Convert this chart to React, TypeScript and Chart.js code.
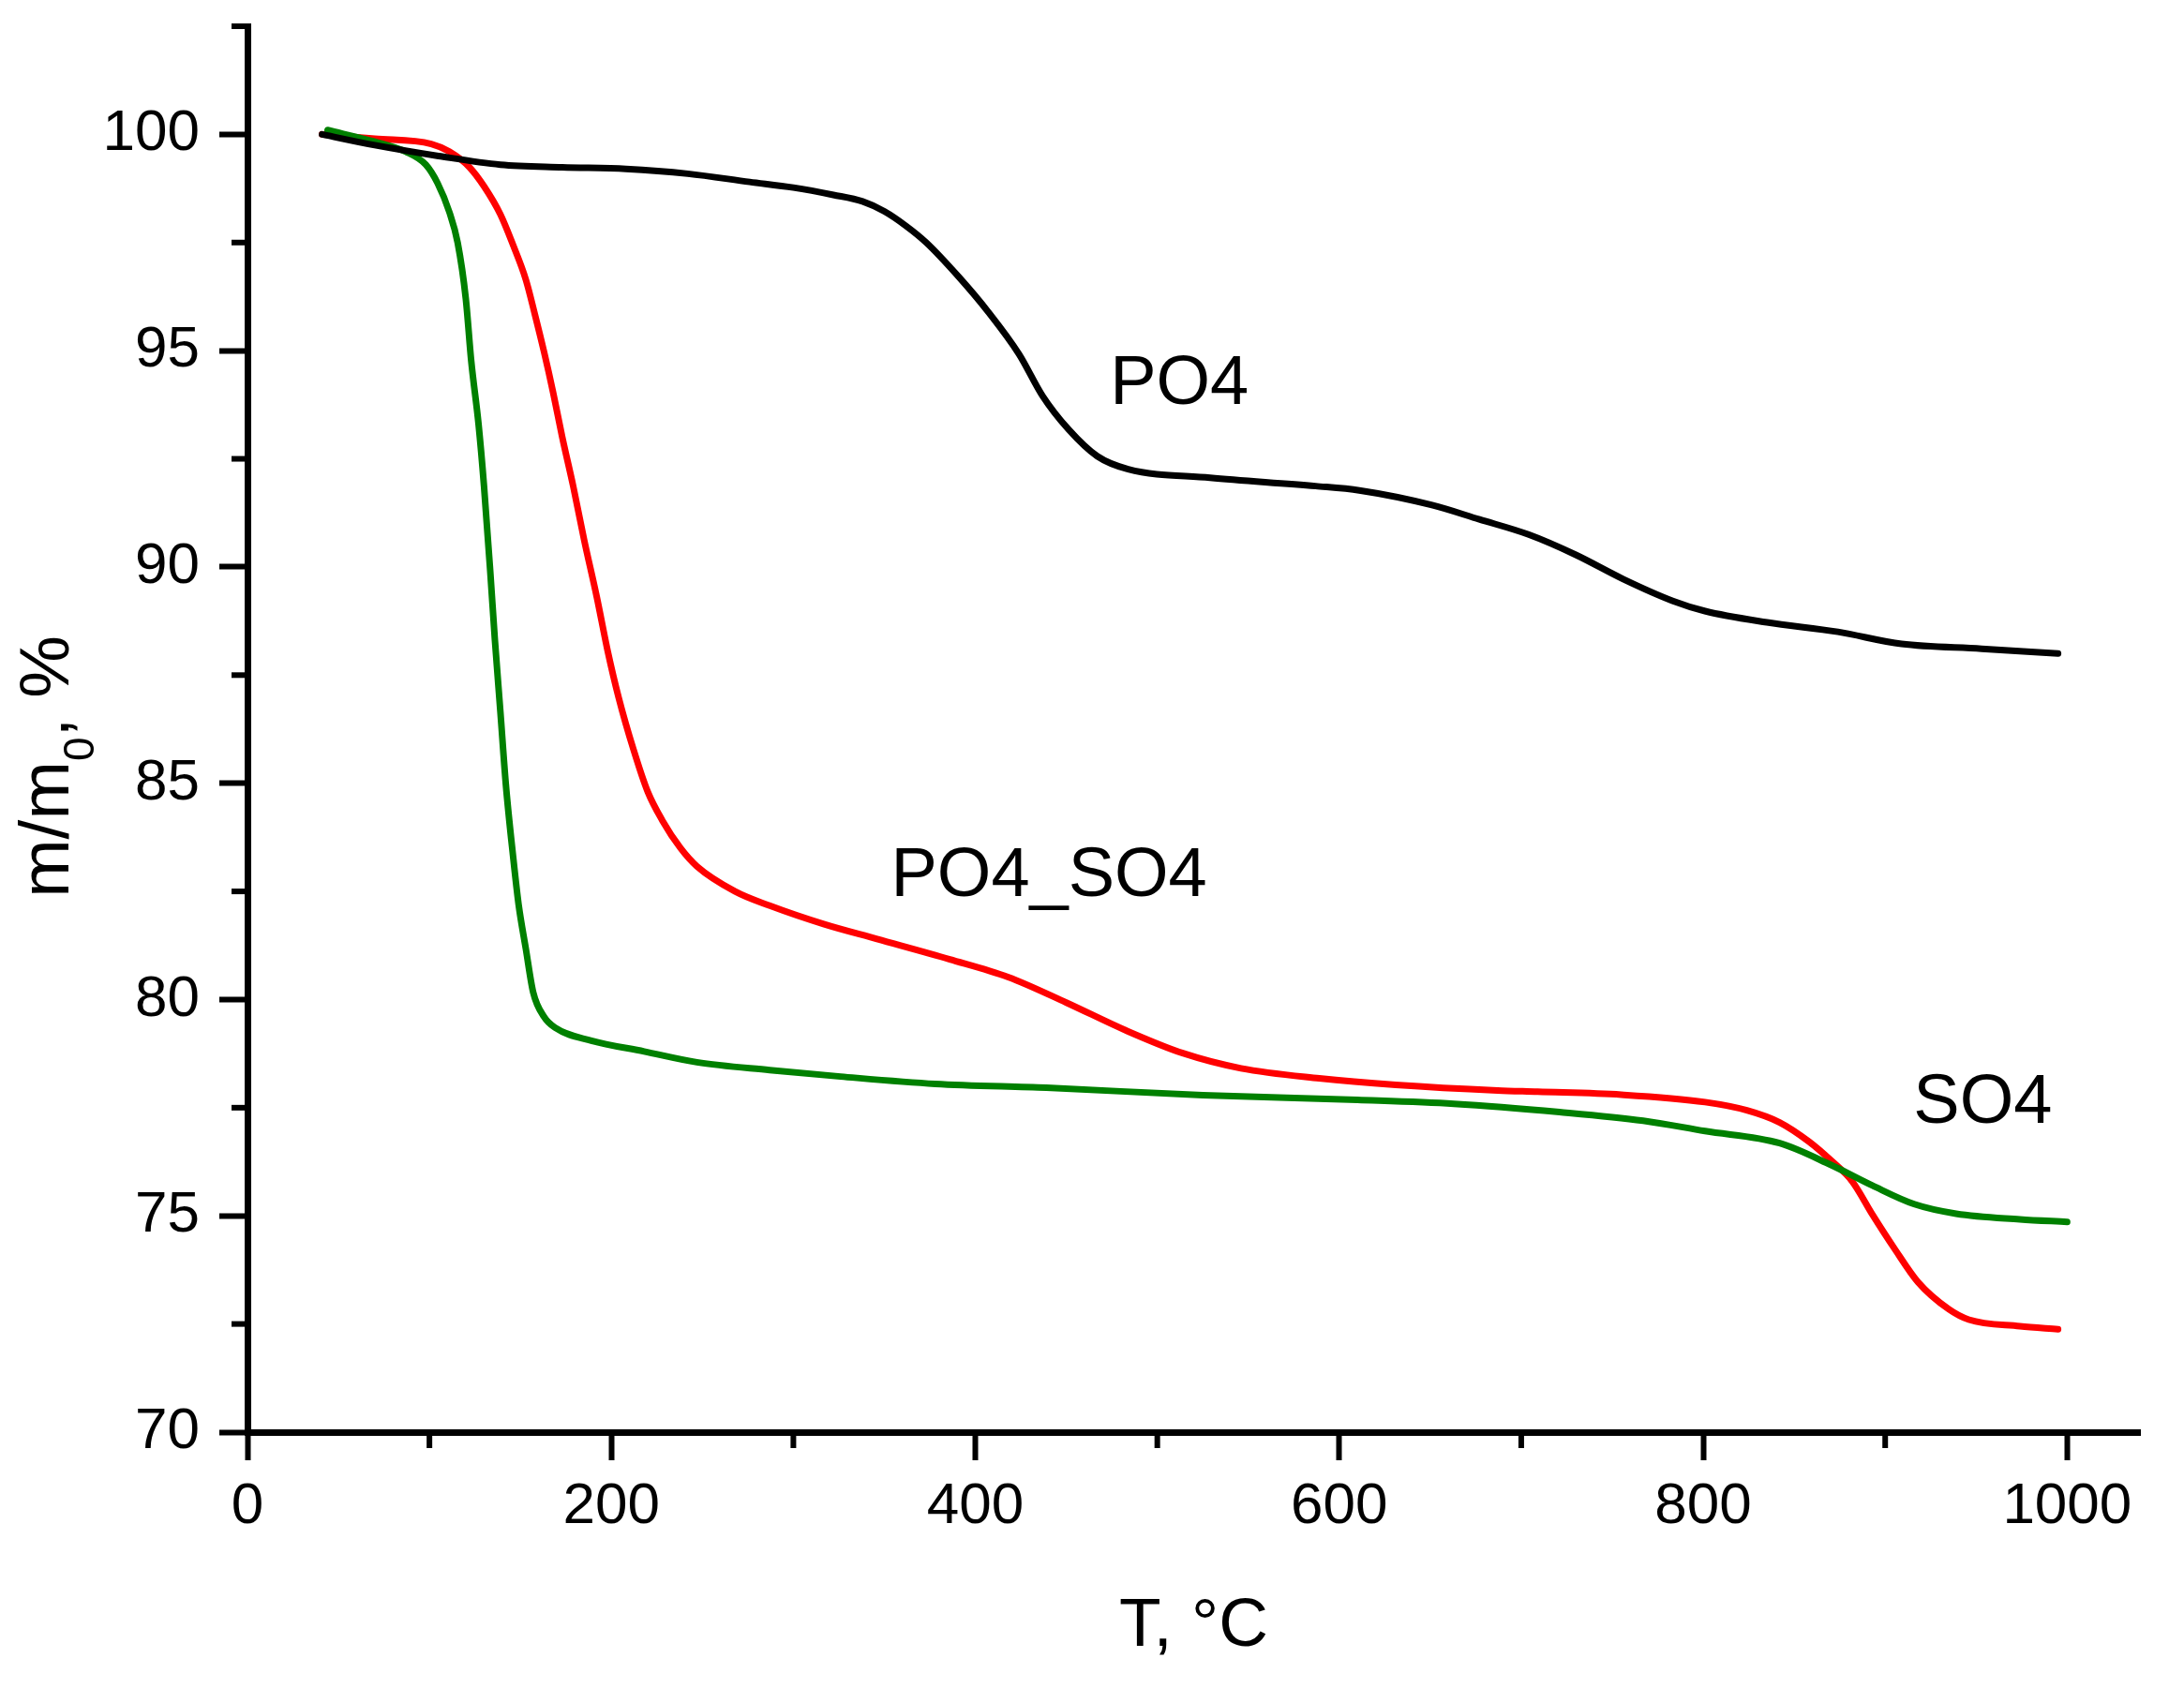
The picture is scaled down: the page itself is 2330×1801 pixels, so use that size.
import { useEffect, useRef } from "react"
import { Chart, registerables } from "chart.js"

Chart.register(...registerables)

const FONT = "'Liberation Sans', Arial, sans-serif"

// PO4 sample (black)
const po4Temp = [41, 70, 105, 139, 173, 208, 242, 276, 300, 322, 338, 350, 362, 373, 391, 407, 424, 437, 451, 467, 484, 529, 587, 611, 651, 677, 704, 730, 756, 783, 801, 835, 874, 909, 953, 995]
const po4Mass = [100, 99.75, 99.5, 99.3, 99.24, 99.2, 99.09, 98.9, 98.77, 98.6, 98.45, 98.22, 97.88, 97.5, 96.7, 95.9, 94.92, 93.95, 93.19, 92.56, 92.26, 92.06, 91.87, 91.77, 91.43, 91.1, 90.75, 90.28, 89.72, 89.22, 88.98, 88.72, 88.5, 88.22, 88.11, 88.0]

// PO4_SO4 sample (red)
const po4so4Temp = [41, 70, 101, 111, 122, 130, 139, 146, 153, 158, 163, 168, 173, 179, 185, 192, 198, 204, 212, 220, 228, 238, 247, 268, 287, 317, 346, 386, 418, 450, 482, 514, 546, 589, 631, 687, 709, 755, 801, 824, 842, 858, 870, 882, 893, 905, 918, 935, 946, 974, 995]
const po4so4Mass = [100, 99.9, 99.78, 99.6, 99.24, 98.8, 98.15, 97.44, 96.64, 95.83, 94.97, 94.03, 93.0, 91.87, 90.63, 89.3, 88.05, 86.98, 85.8, 84.8, 84.14, 83.5, 83.08, 82.5, 82.17, 81.74, 81.4, 80.93, 80.52, 79.93, 79.3, 78.76, 78.41, 78.18, 78.03, 77.9, 77.87, 77.8, 77.63, 77.44, 77.16, 76.72, 76.29, 75.79, 75.03, 74.25, 73.47, 72.84, 72.6, 72.45, 72.38]

// SO4 sample (green)
const so4Temp = [44, 70, 87, 98, 104.5, 111, 115.5, 120, 123, 127, 130, 133.5, 136, 139, 142, 146, 149, 153, 157, 163, 169, 189, 218, 247, 287, 326, 378, 439, 525, 610, 663, 721, 767, 801, 842, 870, 893, 916, 939, 974, 1000]
const so4Mass = [100.1, 99.83, 99.6, 99.3, 98.87, 98.2, 97.5, 96.2, 94.75, 93.3, 91.87, 89.85, 88.3, 86.65, 84.97, 83.3, 82.2, 81.17, 80.17, 79.6, 79.35, 79.05, 78.8, 78.55, 78.37, 78.22, 78.05, 77.96, 77.79, 77.68, 77.59, 77.4, 77.2, 76.96, 76.68, 76.18, 75.7, 75.27, 75.05, 74.92, 74.86]

const xMinorTicks = [100, 300, 500, 700, 900]
const yMinorTicks = [72.5, 77.5, 82.5, 87.5, 92.5, 97.5, 102.5]

// curve labels: [text, T, m/m0 at baseline]
const curveLabels: [string, number, number][] = [
  ["PO4", 474, 93.77],
  ["PO4_SO4", 353.6, 82.4],
  ["SO4", 915.5, 77.15],
]

const zip = (xs: number[], ys: number[]) => xs.map((x, i) => ({ x, y: ys[i] }))

const isMultiple = (v: number, step: number) => Math.abs(v / step - Math.round(v / step)) < 1e-6

const noScalePadding = (scale: any) => {
  scale.paddingTop = 0
  scale.paddingBottom = 0
  scale.paddingLeft = 0
  scale.paddingRight = 0
}

const overlayPlugin = {
  id: "overlay",
  afterDraw(chart: any) {
    const { ctx } = chart
    const x = chart.scales.x
    const y = chart.scales.y
    ctx.save()

    // minor ticks
    ctx.strokeStyle = "#000"
    ctx.lineWidth = 6
    for (const v of xMinorTicks) {
      const px = x.getPixelForValue(v)
      ctx.beginPath()
      ctx.moveTo(px, y.bottom)
      ctx.lineTo(px, y.bottom + 17)
      ctx.stroke()
    }
    for (const v of yMinorTicks) {
      const py = y.getPixelForValue(v)
      ctx.beginPath()
      ctx.moveTo(x.left, py)
      ctx.lineTo(x.left - 17, py)
      ctx.stroke()
    }

    ctx.fillStyle = "#000"
    ctx.textBaseline = "alphabetic"

    // curve labels
    ctx.textAlign = "left"
    ctx.font = `74px ${FONT}`
    for (const [text, t, m] of curveLabels) {
      ctx.fillText(text, x.getPixelForValue(t), y.getPixelForValue(m))
    }

    // x title
    ctx.textAlign = "center"
    ctx.font = `73px ${FONT}`
    ctx.fillText("T, °C", (x.left + x.right) / 2, 1756)

    // y title with subscript
    const big = `75px ${FONT}`
    const small = `46px ${FONT}`
    ctx.font = big
    const w1 = ctx.measureText("m/m").width
    const w3 = ctx.measureText(", %").width
    ctx.font = small
    const w2 = ctx.measureText("0").width
    const total = w1 + w2 + w3
    ctx.translate(73, 818 + total / 2)
    ctx.rotate(-Math.PI / 2)
    ctx.textAlign = "left"
    ctx.font = big
    ctx.fillText("m/m", 0, 0)
    ctx.font = small
    ctx.fillText("0", w1, 27)
    ctx.font = big
    ctx.fillText(", %", w1 + w2, 0)

    ctx.restore()
  },
}

export default function App() {
  const chartRef = useRef<HTMLCanvasElement>(null)
  const chartInstance = useRef<Chart | null>(null)

  useEffect(() => {
    document.body.style.margin = "0"
    if (!chartRef.current) return

    if (chartInstance.current) {
      chartInstance.current.destroy()
    }

    const ctx = chartRef.current.getContext("2d")
    if (!ctx) return

    const lineStyle = {
      borderWidth: 7,
      pointRadius: 0,
      cubicInterpolationMode: "monotone" as const,
      borderCapStyle: "round" as const,
      borderJoinStyle: "round" as const,
      fill: false,
    }

    chartInstance.current = new Chart(ctx, {
      type: "line",
      data: {
        datasets: [
          { label: "PO4", data: zip(po4Temp, po4Mass), borderColor: "#000000", ...lineStyle },
          { label: "SO4", data: zip(so4Temp, so4Mass), borderColor: "#008000", ...lineStyle },
          { label: "PO4_SO4", data: zip(po4so4Temp, po4so4Mass), borderColor: "#ff0000", ...lineStyle },
        ],
      },
      options: {
        responsive: false,
        animation: false,
        devicePixelRatio: 1,
        layout: { padding: { left: 0, right: 47, top: 28, bottom: 0 } },
        plugins: {
          legend: { display: false },
          tooltip: { enabled: false },
        },
        scales: {
          x: {
            type: "linear",
            min: 0,
            max: 1040,
            afterFit: (scale: any) => {
              scale.height = 273
              noScalePadding(scale)
            },
            ticks: {
              stepSize: 100,
              includeBounds: false,
              autoSkip: false,
              maxRotation: 0,
              padding: 13,
              color: "#000",
              font: { family: FONT, size: 62 },
              callback: (v: any) => (isMultiple(Number(v), 200) ? String(v) : ""),
            },
            grid: {
              drawOnChartArea: false,
              drawTicks: true,
              tickLength: 30,
              tickWidth: 6,
              tickColor: (c: any) => (c.tick && isMultiple(c.tick.value, 200) ? "#000" : "rgba(0,0,0,0)"),
            },
            border: { display: true, color: "#000", width: 7 },
          },
          y: {
            type: "linear",
            min: 70,
            max: 102.5,
            afterFit: (scale: any) => {
              scale.width = 264
              noScalePadding(scale)
            },
            ticks: {
              stepSize: 2.5,
              includeBounds: false,
              autoSkip: false,
              padding: 21,
              color: "#000",
              font: { family: FONT, size: 62 },
              callback: (v: any) => (isMultiple(Number(v), 5) ? String(v) : ""),
            },
            grid: {
              drawOnChartArea: false,
              drawTicks: true,
              tickLength: 30,
              tickWidth: 6,
              tickColor: (c: any) => (c.tick && isMultiple(c.tick.value, 5) ? "#000" : "rgba(0,0,0,0)"),
            },
            border: { display: true, color: "#000", width: 7 },
          },
        },
      },
      plugins: [overlayPlugin],
    })

    return () => {
      if (chartInstance.current) {
        chartInstance.current.destroy()
        chartInstance.current = null
      }
    }
  }, [])

  return <canvas ref={chartRef} width={2330} height={1801} style={{ display: "block" }} />
}
